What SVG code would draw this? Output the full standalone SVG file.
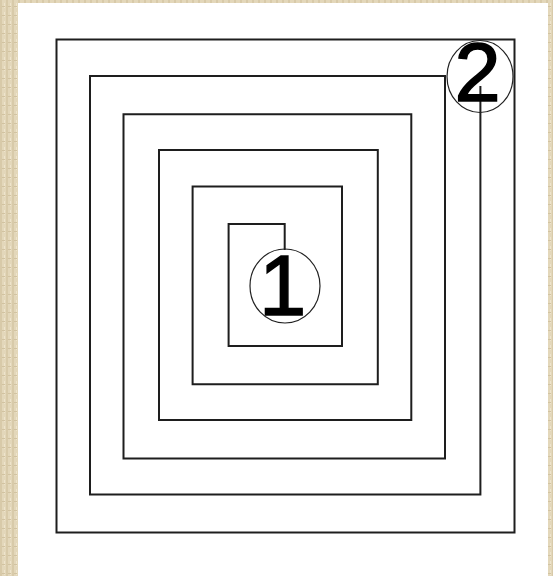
<svg xmlns="http://www.w3.org/2000/svg" width="553" height="576" viewBox="0 0 553 576">
  <defs>
    <pattern id="tex" width="6" height="9" patternUnits="userSpaceOnUse">
      <rect width="6" height="9" fill="#e3d7ba"/>
      <rect x="0" y="0" width="2" height="9" fill="#d8caa9"/>
      <rect x="4" y="3" width="1" height="5" fill="#eee4cc"/>
      <rect x="2" y="6" width="3" height="1" fill="#d2c3a1"/>
    </pattern>
  </defs>
  <style>
    .sp { fill: none; stroke: #1e1e1e; stroke-width: 2; stroke-linejoin: miter; }
    .ring { fill: none; stroke: #222; stroke-width: 1.2; }
    .num { font-family: "Liberation Sans", Arial, sans-serif; fill: #000; stroke: #000; stroke-width: 1.5; }
  </style>
  <rect width="553" height="576" fill="url(#tex)"/>
  <rect x="18" y="3" width="530" height="573" fill="#ffffff"/>
  <g id="connectors">
    <rect class="sp" x="56.5" y="39.5" width="458" height="493"/>
    <path class="sp" d="M284.7,250 V224 H228.6 V346 H342 V186.6 H192.6 V384.3 H377.8 V150 H159 V420 H411.3 V114.3 H123.5 V458.5 H445 V76 H90 V494.5 H480.4 V86"/>
  </g>
  <g id="node-1">
    <ellipse class="ring" cx="285" cy="286" rx="35" ry="37"/>
    <text class="num" x="259" y="315" font-size="85">1</text>
  </g>
  <g id="node-2">
    <ellipse class="ring" cx="480" cy="76.5" rx="33" ry="36"/>
    <text class="num" x="454.5" y="100.5" font-size="83">2</text>
  </g>
</svg>
